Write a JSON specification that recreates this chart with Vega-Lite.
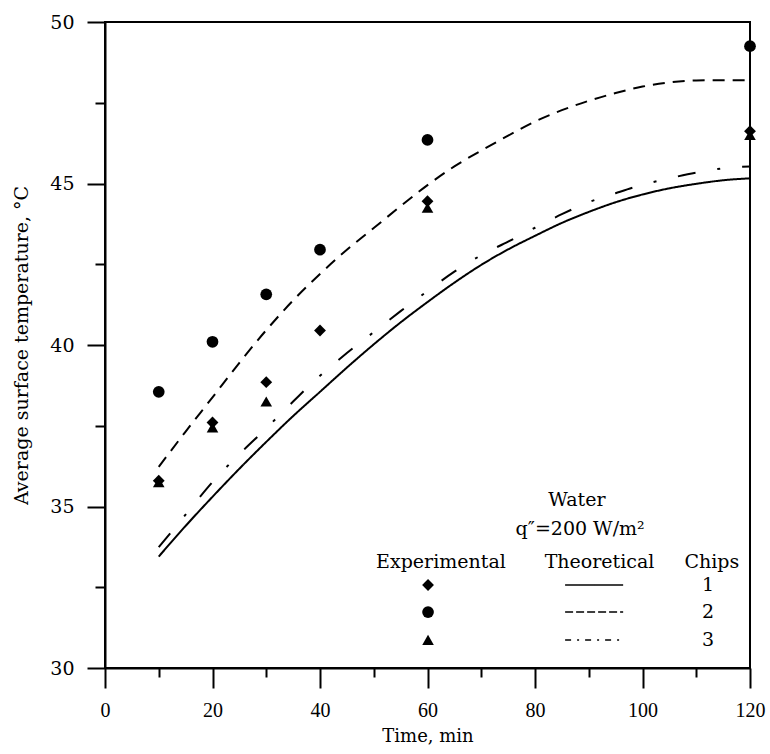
{
  "$schema": "https://vega.github.io/schema/vega-lite/v6.json",
  "width": 645,
  "height": 646,
  "autosize": {"type": "none"},
  "padding": {"left": 105, "top": 22, "right": 20, "bottom": 86},
  "background": "white",
  "config": {"view": {"stroke": "black", "strokeWidth": 2}, "font": "DejaVu Serif"},
  "datasets": {
    "theory": [
      {"chip": "1", "t": 10, "T": 33.45}, {"chip": "1", "t": 15, "T": 34.4}, {"chip": "1", "t": 20, "T": 35.3}, {"chip": "1", "t": 25, "T": 36.17}, {"chip": "1", "t": 30, "T": 37.0}, {"chip": "1", "t": 35, "T": 37.8}, {"chip": "1", "t": 40, "T": 38.55}, {"chip": "1", "t": 45, "T": 39.3}, {"chip": "1", "t": 50, "T": 40.02}, {"chip": "1", "t": 55, "T": 40.7}, {"chip": "1", "t": 60, "T": 41.33}, {"chip": "1", "t": 65, "T": 41.93}, {"chip": "1", "t": 70, "T": 42.48}, {"chip": "1", "t": 75, "T": 42.96}, {"chip": "1", "t": 80, "T": 43.38}, {"chip": "1", "t": 85, "T": 43.78}, {"chip": "1", "t": 90, "T": 44.12}, {"chip": "1", "t": 95, "T": 44.42}, {"chip": "1", "t": 100, "T": 44.66}, {"chip": "1", "t": 105, "T": 44.85}, {"chip": "1", "t": 110, "T": 44.99}, {"chip": "1", "t": 115, "T": 45.1}, {"chip": "1", "t": 120, "T": 45.16},
      {"chip": "2", "t": 10, "T": 36.23}, {"chip": "2", "t": 15, "T": 37.32}, {"chip": "2", "t": 20, "T": 38.38}, {"chip": "2", "t": 25, "T": 39.45}, {"chip": "2", "t": 30, "T": 40.46}, {"chip": "2", "t": 35, "T": 41.38}, {"chip": "2", "t": 40, "T": 42.2}, {"chip": "2", "t": 45, "T": 42.95}, {"chip": "2", "t": 50, "T": 43.62}, {"chip": "2", "t": 55, "T": 44.3}, {"chip": "2", "t": 60, "T": 44.95}, {"chip": "2", "t": 65, "T": 45.53}, {"chip": "2", "t": 70, "T": 46.02}, {"chip": "2", "t": 75, "T": 46.48}, {"chip": "2", "t": 80, "T": 46.92}, {"chip": "2", "t": 85, "T": 47.27}, {"chip": "2", "t": 90, "T": 47.56}, {"chip": "2", "t": 95, "T": 47.8}, {"chip": "2", "t": 100, "T": 48.0}, {"chip": "2", "t": 105, "T": 48.13}, {"chip": "2", "t": 110, "T": 48.19}, {"chip": "2", "t": 115, "T": 48.2}, {"chip": "2", "t": 120, "T": 48.2},
      {"chip": "3", "t": 10, "T": 33.74}, {"chip": "3", "t": 15, "T": 34.75}, {"chip": "3", "t": 20, "T": 35.76}, {"chip": "3", "t": 25, "T": 36.62}, {"chip": "3", "t": 30, "T": 37.42}, {"chip": "3", "t": 35, "T": 38.25}, {"chip": "3", "t": 40, "T": 39.05}, {"chip": "3", "t": 45, "T": 39.75}, {"chip": "3", "t": 50, "T": 40.4}, {"chip": "3", "t": 55, "T": 41.05}, {"chip": "3", "t": 60, "T": 41.67}, {"chip": "3", "t": 65, "T": 42.27}, {"chip": "3", "t": 70, "T": 42.78}, {"chip": "3", "t": 75, "T": 43.2}, {"chip": "3", "t": 80, "T": 43.63}, {"chip": "3", "t": 85, "T": 44.05}, {"chip": "3", "t": 90, "T": 44.42}, {"chip": "3", "t": 95, "T": 44.7}, {"chip": "3", "t": 100, "T": 44.96}, {"chip": "3", "t": 105, "T": 45.16}, {"chip": "3", "t": 110, "T": 45.34}, {"chip": "3", "t": 115, "T": 45.47}, {"chip": "3", "t": 120, "T": 45.53}
    ],
    "exp": [
      {"chip": "1", "t": 10, "T": 35.8}, {"chip": "1", "t": 20, "T": 37.6}, {"chip": "1", "t": 30, "T": 38.85}, {"chip": "1", "t": 40, "T": 40.45}, {"chip": "1", "t": 60, "T": 44.45}, {"chip": "1", "t": 120, "T": 46.62},
      {"chip": "2", "t": 10, "T": 38.55}, {"chip": "2", "t": 20, "T": 40.1}, {"chip": "2", "t": 30, "T": 41.57}, {"chip": "2", "t": 40, "T": 42.95}, {"chip": "2", "t": 60, "T": 46.35}, {"chip": "2", "t": 120, "T": 49.25},
      {"chip": "3", "t": 10, "T": 35.75}, {"chip": "3", "t": 20, "T": 37.45}, {"chip": "3", "t": 30, "T": 38.25}, {"chip": "3", "t": 60, "T": 44.25}, {"chip": "3", "t": 120, "T": 46.5}
    ],
    "legendMarkers": [
      {"chip": "1", "t": 60.1, "T": 32.57}, {"chip": "2", "t": 60.1, "T": 31.73}, {"chip": "3", "t": 60.1, "T": 30.87}
    ],
    "legendLines": [
      {"chip": "1", "t": 85.6, "T": 32.57}, {"chip": "1", "t": 96.4, "T": 32.57},
      {"chip": "2", "t": 85.6, "T": 31.73}, {"chip": "2", "t": 96.4, "T": 31.73},
      {"chip": "3", "t": 85.6, "T": 30.87}, {"chip": "3", "t": 96.4, "T": 30.87}
    ],
    "legendText": [
      {"label": "Water", "t": 87.8, "T": 35.2},
      {"label": "q″=200 W/m²", "t": 88.4, "T": 34.3},
      {"label": "Experimental", "t": 62.5, "T": 33.28},
      {"label": "Theoretical", "t": 92.0, "T": 33.28},
      {"label": "Chips", "t": 112.9, "T": 33.28},
      {"label": "1", "t": 112.2, "T": 32.57},
      {"label": "2", "t": 112.2, "T": 31.73},
      {"label": "3", "t": 112.2, "T": 30.87}
    ]
  },
  "resolve": {"scale": {"strokeDash": "independent"}},
  "layer": [
    {
      "data": {"name": "theory"},
      "mark": {"type": "line", "color": "black", "strokeWidth": 2, "interpolate": "monotone"},
      "encoding": {
        "x": {
          "field": "t", "type": "quantitative",
          "scale": {"domain": [0, 120], "nice": false},
          "axis": {
            "values": [0, 10, 20, 30, 40, 50, 60, 70, 80, 90, 100, 110, 120],
            "labelExpr": "datum.value % 20 === 0 ? datum.label : ''",
            "tickSize": {"condition": {"test": "datum.value % 20 === 0", "value": 20}, "value": 9},
            "tickColor": "black", "tickWidth": 2, "domainColor": "black", "domainWidth": 2, "grid": false,
            "labelFont": "Liberation Serif", "labelFontSize": 20, "labelColor": "black", "labelPadding": 12,
            "labelFlush": false, "labelOverlap": false,
            "title": "Time, min", "titleFont": "DejaVu Serif", "titleFontSize": 18, "titleFontWeight": "normal", "titleColor": "black", "titlePadding": 7
          }
        },
        "y": {
          "field": "T", "type": "quantitative",
          "scale": {"domain": [30, 50], "nice": false, "zero": false},
          "axis": {
            "values": [30, 32.5, 35, 37.5, 40, 42.5, 45, 47.5, 50],
            "labelExpr": "datum.value % 5 === 0 ? datum.label : ''",
            "tickSize": {"condition": {"test": "datum.value % 5 === 0", "value": 18}, "value": 10},
            "tickColor": "black", "tickWidth": 2, "domainColor": "black", "domainWidth": 2, "grid": false,
            "labelFont": "DejaVu Serif", "labelFontSize": 19, "labelColor": "black", "labelPadding": 13,
            "labelFlush": false, "labelOverlap": false,
            "title": "Average surface temperature, °C", "titleFont": "DejaVu Serif", "titleFontSize": 19, "titleFontWeight": "normal", "titleColor": "black", "titlePadding": 18
          }
        },
        "detail": {"field": "chip"},
        "strokeDash": {"field": "chip", "type": "nominal", "scale": {"domain": ["1", "2", "3"], "range": [[1, 0], [12, 8], [18, 22, 3, 22]]}, "legend": null}
      }
    },
    {
      "data": {"name": "exp"},
      "mark": {"type": "point", "filled": true, "color": "black", "opacity": 1},
      "encoding": {
        "x": {"field": "t", "type": "quantitative"},
        "y": {"field": "T", "type": "quantitative"},
        "shape": {"field": "chip", "type": "nominal", "scale": {"domain": ["1", "2", "3"], "range": ["diamond", "circle", "triangle-up"]}, "legend": null},
        "size": {"field": "chip", "type": "ordinal", "scale": {"domain": ["1", "2", "3"], "range": [140, 135, 110]}, "legend": null}
      }
    },
    {
      "data": {"name": "legendMarkers"},
      "mark": {"type": "point", "filled": true, "color": "black", "opacity": 1},
      "encoding": {
        "x": {"field": "t", "type": "quantitative"},
        "y": {"field": "T", "type": "quantitative"},
        "shape": {"field": "chip", "type": "nominal", "scale": {"domain": ["1", "2", "3"], "range": ["diamond", "circle", "triangle-up"]}, "legend": null},
        "size": {"field": "chip", "type": "ordinal", "scale": {"domain": ["1", "2", "3"], "range": [140, 135, 110]}, "legend": null}
      }
    },
    {
      "data": {"name": "legendLines"},
      "mark": {"type": "line", "color": "black", "strokeWidth": 1.5},
      "encoding": {
        "x": {"field": "t", "type": "quantitative"},
        "y": {"field": "T", "type": "quantitative"},
        "detail": {"field": "chip"},
        "strokeDash": {"field": "chip", "type": "nominal", "scale": {"domain": ["1", "2", "3"], "range": [[1, 0], [8, 3], [6, 6, 2, 6]]}, "legend": null}
      }
    },
    {
      "data": {"name": "legendText"},
      "mark": {"type": "text", "font": "DejaVu Serif", "fontSize": 19, "color": "black", "align": "center", "baseline": "middle"},
      "encoding": {
        "x": {"field": "t", "type": "quantitative"},
        "y": {"field": "T", "type": "quantitative"},
        "text": {"field": "label"}
      }
    }
  ]
}
